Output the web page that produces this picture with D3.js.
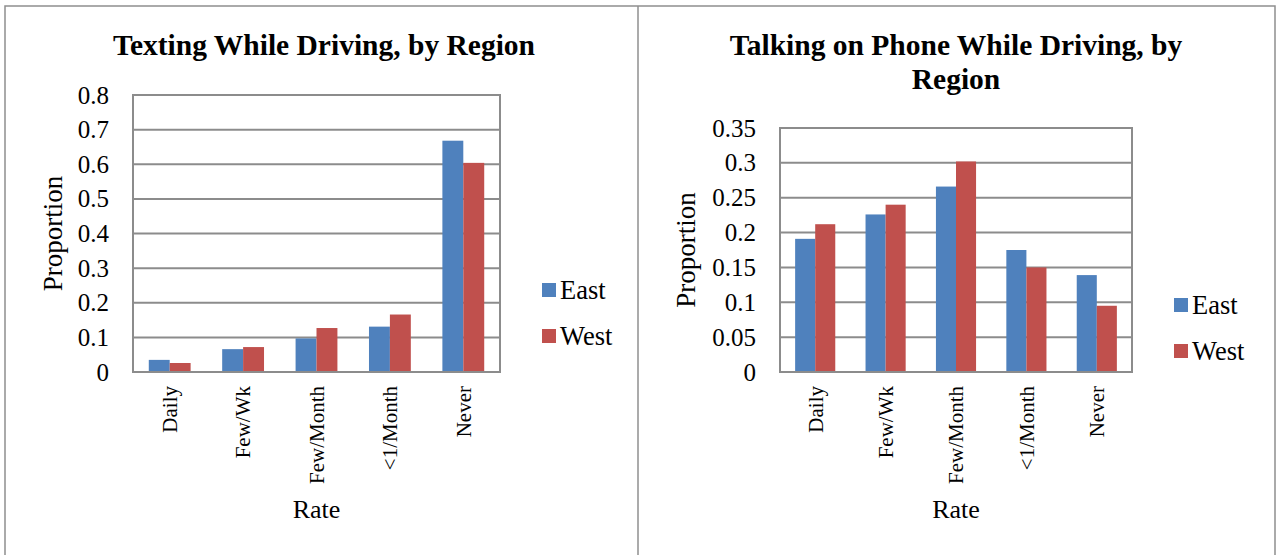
<!DOCTYPE html>
<html>
<head>
<meta charset="utf-8">
<script src="https://cdn.jsdelivr.net/npm/d3@7/dist/d3.min.js"></script>
<style>
  html, body { margin: 0; padding: 0; background: #fff; }
  svg { display: block; }
  svg text { font-family: "Liberation Serif", "Times New Roman", serif; fill: #000; }
</style>
</head>
<body>
<svg id="chart" width="1277" height="555"></svg>
<script>
// Survey categories and regional proportions
const rates = ["Daily", "Few/Wk", "Few/Month", "<1/Month", "Never"];
const regions = ["East", "West"];

const textingEast = [0.035, 0.066, 0.097, 0.131, 0.668];
const textingWest = [0.026, 0.072, 0.127, 0.166, 0.604];
const textingTicks = [0, 0.1, 0.2, 0.3, 0.4, 0.5, 0.6, 0.7, 0.8];

const talkingEast = [0.191, 0.226, 0.266, 0.175, 0.139];
const talkingWest = [0.212, 0.240, 0.302, 0.150, 0.095];
const talkingTicks = [0, 0.05, 0.1, 0.15, 0.2, 0.25, 0.3, 0.35];

const regionColors = ["#4F81BD", "#C0504D"];
const gridColor = "#8c8c8c";
const serif = "Liberation Serif";

const svg = d3.select("#chart");

// Panel frames
const frame = svg.append("g").attr("fill", "none").attr("stroke", "#8f8f8f").attr("stroke-width", 1.5);
frame.append("path").attr("d", "M5,560 V6 H1275 V560");
frame.append("line").attr("x1", 638).attr("x2", 638).attr("y1", 6).attr("y2", 560);

function drawChart(opt) {
  const g = svg.append("g").attr("font-family", serif);
  const [x0, x1] = opt.xRange, [y0, y1] = opt.yRange;

  const x = d3.scaleBand().domain(rates).range([x0, x1]).paddingInner(0.43).paddingOuter(0.215);
  const xs = d3.scaleBand().domain(regions).range([0, x.bandwidth()]);
  const y = d3.scaleLinear().domain([0, d3.max(opt.ticks)]).range([y1, y0]);

  // Title
  const title = g.append("text")
    .attr("x", opt.titleX).attr("y", 55)
    .attr("font-family", serif)
    .attr("text-anchor", "middle").attr("font-weight", "bold").attr("font-size", 29.5);
  opt.title.forEach((line, i) => {
    title.append("tspan").attr("x", opt.titleX).attr("dy", i === 0 ? 0 : 34).text(line);
  });

  // Horizontal gridlines
  g.append("g").selectAll("line").data(opt.ticks.slice(1)).join("line")
    .attr("x1", x0).attr("x2", x1)
    .attr("y1", d => y(d)).attr("y2", d => y(d))
    .attr("stroke", gridColor).attr("stroke-width", 2);

  // Plot-area border
  g.append("rect").attr("x", x0).attr("y", y0).attr("width", x1 - x0).attr("height", y1 - y0)
    .attr("fill", "none").attr("stroke", gridColor).attr("stroke-width", 2);

  // Bars
  const series = [opt.east, opt.west];
  regions.forEach((r, si) => {
    g.append("g").selectAll("rect").data(series[si]).join("rect")
      .attr("x", (d, i) => x(rates[i]) + xs(r))
      .attr("y", d => y(d))
      .attr("width", xs.bandwidth())
      .attr("height", d => y(0) - y(d))
      .attr("fill", regionColors[si]);
  });

  // Baseline drawn over bars
  g.append("line").attr("x1", x0).attr("x2", x1).attr("y1", y1).attr("y2", y1)
    .attr("stroke", gridColor).attr("stroke-width", 2);

  // Y axis labels
  const yAxis = d3.axisLeft(y).tickValues(opt.ticks).tickSize(0).tickPadding(24)
    .tickFormat(d => String(+d.toFixed(2)));
  const ya = g.append("g").attr("transform", `translate(${x0},0)`).call(yAxis);
  ya.attr("font-family", serif);
  ya.select(".domain").remove();
  ya.selectAll("text").attr("font-family", serif).attr("font-size", 25).attr("fill", "#000");

  // X axis labels, rotated
  const xAxis = d3.axisBottom(x).tickSize(0);
  const xa = g.append("g").attr("transform", `translate(0,${y1})`).call(xAxis);
  xa.attr("font-family", serif);
  xa.select(".domain").remove();
  xa.selectAll("text")
    .attr("font-family", serif).attr("font-size", 21).attr("fill", "#000")
    .attr("transform", "rotate(-90)")
    .attr("text-anchor", "end")
    .attr("x", -14).attr("y", 0).attr("dy", "0.35em");

  // Axis titles
  g.append("text").attr("x", (x0 + x1) / 2).attr("y", 518)
    .attr("font-family", serif)
    .attr("text-anchor", "middle").attr("font-size", 26).text("Rate");
  g.append("text")
    .attr("transform", `translate(${opt.yTitleX},${(y0 + y1) / 2}) rotate(-90)`)
    .attr("font-family", serif)
    .attr("text-anchor", "middle").attr("font-size", 27).text("Proportion");

  // Legend
  const lg = g.append("g").attr("transform", `translate(${x1 + 42},${opt.legendY})`);
  regions.forEach((r, i) => {
    const row = lg.append("g").attr("transform", `translate(0,${i * 46})`);
    row.append("rect").attr("x", 0).attr("y", -7).attr("width", 14).attr("height", 14)
      .attr("fill", regionColors[i]);
    row.append("text").attr("x", 18).attr("y", 0).attr("dy", "0.35em")
      .attr("font-family", serif)
      .attr("font-size", 26.5).text(r);
  });
}

drawChart({
  title: ["Texting While Driving, by Region"],
  titleX: 324,
  xRange: [133, 500], yRange: [95, 372],
  ticks: textingTicks, east: textingEast, west: textingWest,
  yTitleX: 62, legendY: 290
});

drawChart({
  title: ["Talking on Phone While Driving, by", "Region"],
  titleX: 956,
  xRange: [780, 1132], yRange: [128, 372],
  ticks: talkingTicks, east: talkingEast, west: talkingWest,
  yTitleX: 695, legendY: 305
});
</script>
</body>
</html>
